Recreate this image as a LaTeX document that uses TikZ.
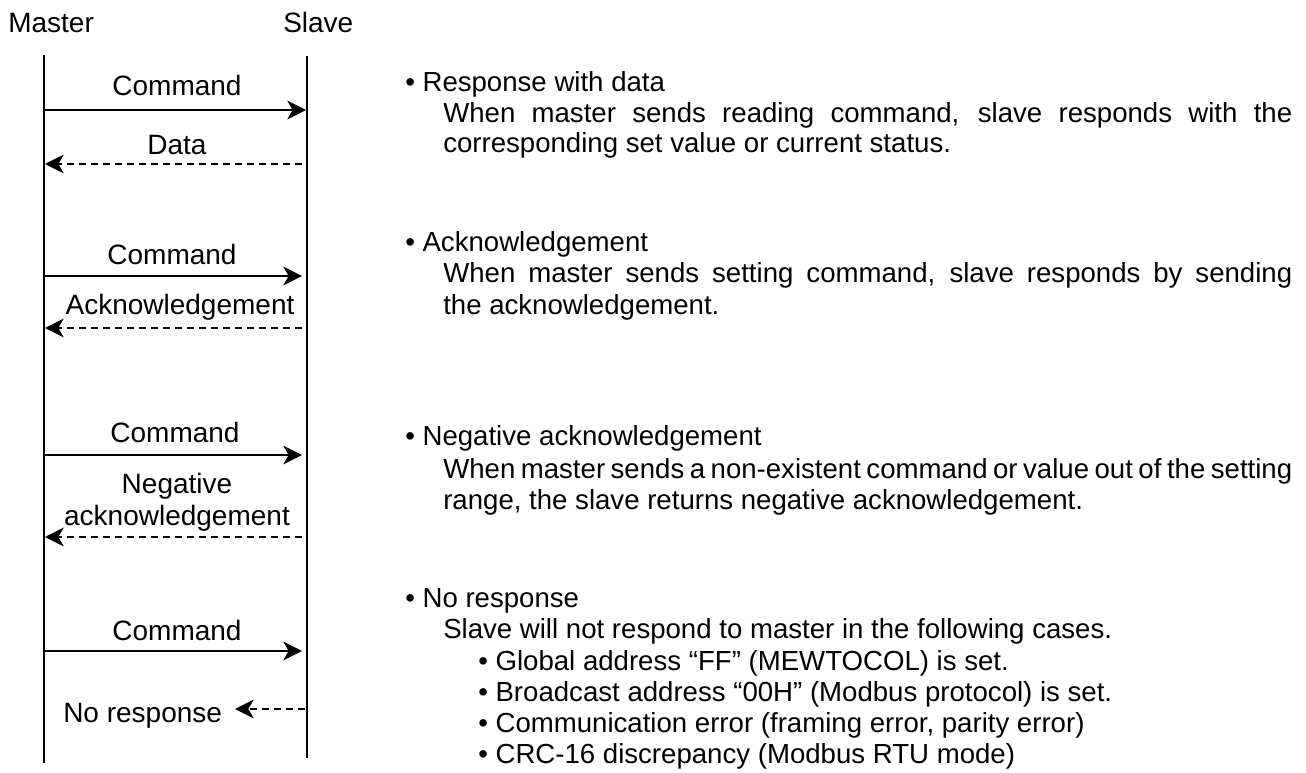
\documentclass[tikz,border=0pt]{standalone}
\usepackage{fontspec}
\setmainfont{Liberation Sans}
\usetikzlibrary{arrows.meta}
\begin{document}
\begin{tikzpicture}[x=0.75pt,y=-0.75pt,
  lbl/.style={inner sep=0pt, anchor=base, font=\fontsize{21}{23.25}\selectfont},
  head/.style={inner sep=0pt, anchor=base west, font=\fontsize{21}{23.25}\selectfont},
  txt/.style={inner sep=0pt, anchor=base west, font=\fontsize{20.7}{23.25}\selectfont},
  life/.style={line width=1.5pt},
  msg/.style={line width=1.3pt, -{Stealth[length=14pt,width=14pt,inset=4pt]}},
  reply/.style={msg, dash pattern=on 5.5pt off 3.5pt}]
\useasboundingbox (0,0) rectangle (1306,773);
\newcommand{\jline}[1]{\makebox[636.75pt][s]{#1}}
% headers
\node[head] (master) at (8,33) {Master};
\node[head] (slave) at (283,33) {Slave};
% lifelines
\coordinate (mtop) at (44,55);
\coordinate (mbot) at (44,763);
\coordinate (stop) at (307,56);
\coordinate (sbot) at (307,758);
\draw[life] (mtop) -- (mbot);
\draw[life] (stop) -- (sbot);
% message end points
\coordinate (m1) at (44,110);  \coordinate (s1) at (306,110);
\coordinate (s2) at (302,164); \coordinate (m2) at (45,164);
\coordinate (m3) at (44,276);  \coordinate (s3) at (302,276);
\coordinate (s4) at (302,328); \coordinate (m4) at (45,328);
\coordinate (m5) at (44,455);  \coordinate (s5) at (302,455);
\coordinate (s6) at (302,537); \coordinate (m6) at (45,537);
\coordinate (m7) at (44,651);  \coordinate (s7) at (302,651);
\coordinate (s8) at (305,709); \coordinate (e8) at (235,709);
% messages
\draw[msg] (m1) -- (s1);
\draw[reply] (s2) -- (m2);
\draw[msg] (m3) -- (s3);
\draw[reply] (s4) -- (m4);
\draw[msg] (m5) -- (s5);
\draw[reply] (s6) -- (m6);
\draw[msg] (m7) -- (s7);
\draw[reply] (s8) -- (e8);
% labels
\node[lbl] (c1) at (177,96) {Command};
\node[lbl] (d1) at (177,155) {Data};
\node[lbl] (c2) at (172,265) {Command};
\node[lbl] (a2) at (180,315) {Acknowledgement};
\node[lbl] (c3) at (175,442) {Command};
\node[lbl] (n3a) at (177,493) {Negative};
\node[lbl] (n3b) at (177,525) {acknowledgement};
\node[lbl] (c4) at (177,640) {Command};
\node[head] (nr) at (63,722) {No response};
% descriptions
\node[txt] (t1) at (405,92) {• Response with data};
\node[txt] (t2) at (443,123) {\jline{When master sends reading command, slave responds with the}};
\node[txt] (t3) at (443,153) {corresponding set value or current status.};
\node[txt] (t4) at (405,252) {• Acknowledgement};
\node[txt] (t5) at (443,283) {\jline{When master sends setting command, slave responds by sending}};
\node[txt] (t6) at (443,315) {the acknowledgement.};
\node[txt] (t7) at (405,445) {• Negative acknowledgement};
\node[txt] (t8) at (443,478) {\jline{When master sends a non-existent command or value out of the setting}};
\node[txt] (t9) at (443,509) {range, the slave returns negative acknowledgement.};
\node[txt] (t10) at (405,607) {• No response};
\node[txt] (t11) at (443,638) {Slave will not respond to master in the following cases.};
\node[txt] (t12) at (478,670) {• Global address “FF” (MEWTOCOL) is set.};
\node[txt] (t13) at (478,701) {• Broadcast address “00H” (Modbus protocol) is set.};
\node[txt] (t14) at (478,732) {• Communication error (framing error, parity error)};
\node[txt] (t15) at (478,763) {• CRC-16 discrepancy (Modbus RTU mode)};
\end{tikzpicture}
\end{document}
